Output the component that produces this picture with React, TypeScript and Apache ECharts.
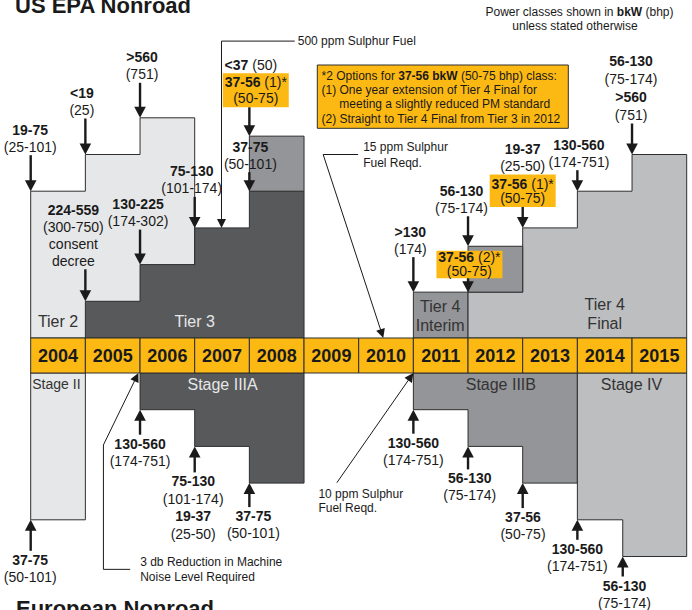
import React, { useEffect, useRef } from "react";
import * as echarts from "echarts";

// ---------------- data ----------------
const years = [2004, 2005, 2006, 2007, 2008, 2009, 2010, 2011, 2012, 2013, 2014, 2015];
const lastYearEnd = 2016;

// US EPA (above the timeline): step boundaries (years) and heights (rows)
const tier2Years = [2004, 2005, 2006, 2007];
const tier2Rows = [4, 5, 6];
const tier3Years = [2005, 2006, 2007, 2008, 2009];
const tier3Rows = [1, 2, 3, 4];
const tier3OptYears = [2008, 2009];
const tier3OptRows = [5.5];
const tier3OptBase = 4;
const tier4iYears = [2011, 2012];
const tier4iRows = [1.25];
const tier4fYears = [2012, 2013, 2014, 2015, 2016];
const tier4fRows = [1.25, 3, 4, 5];
const tier4OptYears = [2012, 2013];
const tier4OptRows = [2.5];
const tier4OptBase = 1.25;

// European (below the timeline): step boundaries (years) and depths (rows)
const stage2Years = [2004, 2005];
const stage2Rows = [4];
const stage3aYears = [2006, 2007, 2008, 2009];
const stage3aRows = [1, 2, 3];
const stage3bYears = [2011, 2012, 2013, 2014];
const stage3bRows = [1, 2, 3];
const stage4Years = [2014, 2014.83, 2016];
const stage4Rows = [4, 5];

// power-class call-outs, kW bold and (bhp)
const usClasses = [
  { year: 2004, row: 4, lines: ["{b|19-75}", "(25-101)"] },
  { year: 2005, row: 5, lines: ["{b|<19}", "(25)"] },
  { year: 2006, row: 6, lines: ["{b|>560}", "(751)"] },
  { year: 2005, row: 1, lines: ["{b|224-559}", "(300-750)", "consent", "decree"] },
  { year: 2006, row: 2, lines: ["{b|130-225}", "(174-302)"] },
  { year: 2007, row: 3, lines: ["{b|75-130}", "(101-174)"] },
  { year: 2008, row: 5.5, lines: ["{b|<37} (50)"], box: ["{b|37-56} (1)*", "(50-75)"] },
  { year: 2008, row: 4, lines: ["{b|37-75}", "(50-101)"] },
  { year: 2011, row: 1.25, lines: ["{b|>130}", "(174)"] },
  { year: 2012, row: 2.5, lines: ["{b|56-130}", "(75-174)"] },
  { year: 2012, row: 1.25, lines: [], box: ["{b|37-56} (2)*", "(50-75)"] },
  { year: 2013, row: 3, lines: ["{b|19-37}", "(25-50)"], box: ["{b|37-56} (1)*", "(50-75)"] },
  { year: 2014, row: 4, lines: ["{b|130-560}", "(174-751)"] },
  { year: 2015, row: 5, lines: ["{b|56-130}", "(75-174)", "{b|>560}", "(751)"] },
];
const euClasses = [
  { year: 2004, row: 4, lines: ["{b|37-75}", "(50-101)"] },
  { year: 2006, row: 1, lines: ["{b|130-560}", "(174-751)"] },
  { year: 2007, row: 2, lines: ["{b|75-130}", "(101-174)", "{b|19-37}", "(25-50)"] },
  { year: 2008, row: 3, lines: ["{b|37-75}", "(50-101)"] },
  { year: 2011, row: 1, lines: ["{b|130-560}", "(174-751)"] },
  { year: 2012, row: 2, lines: ["{b|56-130}", "(75-174)"] },
  { year: 2013, row: 3, lines: ["{b|37-56}", "(50-75)"] },
  { year: 2014, row: 4, lines: ["{b|130-560}", "(174-751)"] },
  { year: 2014.83, row: 5, lines: ["{b|56-130}", "(75-174)"] },
];

// leader notes: path in (year,row), first point is text anchor, last is arrow tip
const usNotes = [
  { path: [[2008.83, 8.09], [2007.49, 8.09], [2007.49, 3]], lines: ["500 ppm Sulphur Fuel"] },
  { path: [[2009.99, 5], [2009.35, 5], [2010.45, 0]], lines: ["15 ppm Sulphur", "Fuel Reqd."] },
];
const euNotes = [
  { path: [[2005.82, 5.35], [2005.33, 5.35], [2005.33, 1.96], [2005.97, 0]], lines: ["3 db Reduction in Machine", "Noise Level Required"] },
  { path: [[2009.6, 2.99], [2011, 0]], lines: ["10 ppm Sulphur", "Fuel Reqd."] },
];

const regionNames = [
  { side: "us", year: 2004.5, row: 0.44, lines: ["Tier 2"] },
  { side: "us", year: 2007, row: 0.44, lines: ["Tier 3"] },
  { side: "us", year: 2011.49, row: 0.6, lines: ["Tier 4", "Interim"] },
  { side: "us", year: 2014.5, row: 0.65, lines: ["Tier 4", "Final"] },
  { side: "eu", year: 2004.47, row: 0.31, lines: ["Stage II"] },
  { side: "eu", year: 2007.51, row: 0.31, lines: ["Stage IIIA"] },
  { side: "eu", year: 2012.6, row: 0.31, lines: ["Stage IIIB"] },
  { side: "eu", year: 2014.99, row: 0.31, lines: ["Stage IV"] },
];

// ---------------- layout & style ----------------
const FONT = '"Liberation Sans", Arial, Helvetica, sans-serif';
const INK = "#1a1a1a";
const EDGE = "#2e2e2e";
const GOLD = "#FDB913";
const C_LIGHT = "#E6E7E8";
const C_DARK = "#58595B";
const C_MID = "#939598";
const C_SILVER = "#BCBEC0";

const ROW_PX = 36.7;
const BAR = 35 / ROW_PX;
const Y_MAX = 338 / ROW_PX;
const Y_MIN = Y_MAX - 610 / ROW_PX;

const usLayout = [
  { len: 36, dx: -0.5 },
  { len: 36, dx: -3.5 },
  { len: 35, dx: 2 },
  { len: 32, dx: -12 },
  { len: 35, dx: -2 },
  { len: 31, dx: -3 },
  { len: 29, dx: 1.5, boxDx: 6.4, boxW: 66, boxH: 34, boxGap: 16 },
  { len: 19, dx: 1 },
  { len: 35, dx: -3 },
  { len: 30, dx: -6.6 },
  { len: 14, dx: 0, boxDx: 1.4, boxW: 66, boxH: 27.4, boxGap: 14 },
  { len: 21, dx: 0, boxDx: 0, boxW: 66, boxH: 32.4, boxGap: 14 },
  { len: 21, dx: 1.6 },
  { len: 31, dx: -1, gap: 18 },
];
const euLayout = [
  { len: 31, dx: -0.5 },
  { len: 25, dx: 0 },
  { len: 26, dx: -1.5, gap: 17.4 },
  { len: 24, dx: 4 },
  { len: 24, dx: 0 },
  { len: 23, dx: 1.7 },
  { len: 25, dx: 0.3 },
  { len: 20, dx: 0 },
  { len: 20, dx: 1.7 },
];
const usNoteLayout = [
  { tx: 3, ty: [0] },
  { tx: 5, ty: [-8, 8] },
];
const euNoteLayout = [
  { tx: 10, ty: [-7.5, 7.5] },
  { tx: -18.4, ty: [11.6, 25] },
];
const regionNameStyle = [
  { color: "#333333", size: 16 },
  { color: "#E6E7E8", size: 16 },
  { color: "#333333", size: 16 },
  { color: "#333333", size: 16 },
  { color: "#333333", size: 14 },
  { color: "#E6E7E8", size: 16 },
  { color: "#333333", size: 16 },
  { color: "#333333", size: 16 },
];

const regions = [
  { side: "us", years: tier2Years, rows: tier2Rows, base: 0, fill: C_LIGHT },
  { side: "us", years: tier3Years, rows: tier3Rows, base: 0, fill: C_DARK },
  { side: "us", years: tier3OptYears, rows: tier3OptRows, base: tier3OptBase, fill: C_MID },
  { side: "us", years: tier4iYears, rows: tier4iRows, base: 0, fill: C_MID },
  { side: "us", years: tier4fYears, rows: tier4fRows, base: 0, fill: C_SILVER },
  { side: "us", years: tier4OptYears, rows: tier4OptRows, base: tier4OptBase, fill: C_MID },
  { side: "eu", years: stage2Years, rows: stage2Rows, base: 0, fill: C_LIGHT },
  { side: "eu", years: stage3aYears, rows: stage3aRows, base: 0, fill: C_DARK },
  { side: "eu", years: stage3bYears, rows: stage3bRows, base: 0, fill: C_MID },
  { side: "eu", years: stage4Years, rows: stage4Rows, base: 0, fill: C_SILVER },
];

function toV(side: string, row: number) {
  return side === "us" ? row : -(BAR + row);
}

function txt(x: number, y: number, text: string, o: any = {}) {
  const size = o.size ?? 14;
  const color = o.color ?? INK;
  const align = o.align ?? "center";
  return {
    type: "text",
    x,
    y,
    style: {
      text,
      fill: color,
      fontSize: size,
      fontFamily: FONT,
      fontWeight: o.weight ?? "normal",
      align,
      textAlign: align,
      verticalAlign: "middle",
      textVerticalAlign: "middle",
      rich: { b: { fontSize: size, fontFamily: FONT, fontWeight: "bold", fill: color } },
    },
  };
}

function arrow(x1: number, y1: number, x2: number, y2: number, thick: boolean) {
  const head = thick ? 11 : 9;
  const half = thick ? 5.8 : 4.5;
  const dx = x2 - x1;
  const dy = y2 - y1;
  const d = Math.hypot(dx, dy) || 1;
  const ux = dx / d;
  const uy = dy / d;
  const bx = x2 - ux * head;
  const by = y2 - uy * head;
  const px = -uy;
  const py = ux;
  return [
    { type: "line", shape: { x1, y1, x2: bx + ux, y2: by + uy }, style: { stroke: INK, lineWidth: thick ? 2.4 : 1 } },
    {
      type: "polygon",
      shape: { points: [[x2, y2], [bx + px * half, by + py * half], [bx - px * half, by - py * half]] },
      style: { fill: INK },
    },
  ];
}

function classRenderer(side: string, list: any[], layout: any[]) {
  return (params: any, api: any) => {
    const a = list[params.dataIndex];
    const L = layout[params.dataIndex];
    const tip = api.coord([a.year, toV(side, a.row)]);
    const x = tip[0];
    const tipY = tip[1];
    const dir = side === "us" ? 1 : -1;
    const startY = tipY - dir * L.len;
    const kids: any[] = [...arrow(x, startY, x, tipY, true)];
    const gap = L.gap ?? 17;
    if (side === "us") {
      let top = startY;
      if (a.box) {
        const bx = x + L.boxDx;
        kids.push({
          type: "rect",
          shape: { x: bx - L.boxW / 2, y: startY - L.boxH, width: L.boxW, height: L.boxH },
          style: { fill: GOLD },
        });
        const mid = startY - L.boxH / 2;
        const n = a.box.length;
        a.box.forEach((t: string, i: number) => kids.push(txt(bx, mid + (i - (n - 1) / 2) * L.boxGap, t)));
        top = startY - L.boxH;
      }
      const n = a.lines.length;
      a.lines.forEach((t: string, i: number) => kids.push(txt(x + L.dx, top - 8.5 - (n - 1 - i) * gap, t)));
    } else {
      a.lines.forEach((t: string, i: number) => kids.push(txt(x + L.dx, startY + 9 + i * gap, t)));
    }
    return { type: "group", children: kids };
  };
}

function noteRenderer(side: string, list: any[], layout: any[]) {
  return (params: any, api: any) => {
    const n = list[params.dataIndex];
    const L = layout[params.dataIndex];
    const pts = n.path.map((p: number[]) => api.coord([p[0], toV(side, p[1])]));
    const kids: any[] = [];
    if (pts.length > 2) {
      kids.push({ type: "polyline", shape: { points: pts.slice(0, pts.length - 1) }, style: { stroke: INK, lineWidth: 1, fill: "none" } });
    }
    const a = pts[pts.length - 2];
    const b = pts[pts.length - 1];
    kids.push(...arrow(a[0], a[1], b[0], b[1], false));
    n.lines.forEach((t: string, i: number) =>
      kids.push(txt(pts[0][0] + L.tx, pts[0][1] + L.ty[i], t, { size: 12, align: "left" }))
    );
    return { type: "group", children: kids };
  };
}

function buildOption() {
  const common = { type: "custom", coordinateSystem: "cartesian2d", clip: false, silent: true, encode: { x: 0, y: 1 } };
  return {
    animation: false,
    backgroundColor: "#ffffff",
    grid: { left: 30.7, right: 5.3, top: 0, bottom: 0 },
    xAxis: { type: "value", min: years[0], max: lastYearEnd, show: false },
    yAxis: { type: "value", min: Y_MIN, max: Y_MAX, show: false },
    series: [
      {
        ...common,
        z: 1,
        data: regions.map((r, i) => [r.years[0], toV(r.side, r.base), i]),
        renderItem: (params: any, api: any) => {
          const r = regions[params.dataIndex];
          const pts: number[][] = [];
          pts.push(api.coord([r.years[0], toV(r.side, r.base)]));
          r.rows.forEach((h, i) => {
            pts.push(api.coord([r.years[i], toV(r.side, h)]));
            pts.push(api.coord([r.years[i + 1], toV(r.side, h)]));
          });
          pts.push(api.coord([r.years[r.years.length - 1], toV(r.side, r.base)]));
          return { type: "polygon", shape: { points: pts }, style: { fill: r.fill, stroke: EDGE, lineWidth: 1 } };
        },
      },
      {
        ...common,
        z: 2,
        data: regionNames.map((r) => [r.year, toV(r.side, r.row)]),
        renderItem: (params: any, api: any) => {
          const r = regionNames[params.dataIndex];
          const s = regionNameStyle[params.dataIndex];
          const p = api.coord([r.year, toV(r.side, r.row)]);
          const n = r.lines.length;
          return {
            type: "group",
            children: r.lines.map((t, i) => txt(p[0], p[1] + (i - (n - 1) / 2) * 18.3, t, { size: s.size, color: s.color })),
          };
        },
      },
      {
        ...common,
        z: 3,
        data: years.map((y) => [y, 0]),
        renderItem: (params: any, api: any) => {
          const y = years[params.dataIndex];
          const p0 = api.coord([y, 0]);
          const p1 = api.coord([y + 1, -BAR]);
          return {
            type: "group",
            children: [
              { type: "rect", shape: { x: p0[0], y: p0[1], width: p1[0] - p0[0], height: p1[1] - p0[1] }, style: { fill: GOLD, stroke: EDGE, lineWidth: 1 } },
              txt((p0[0] + p1[0]) / 2, (p0[1] + p1[1]) / 2, String(y), { size: 18, weight: "bold" }),
            ],
          };
        },
      },
      { ...common, z: 4, data: usClasses.map((a) => [a.year, toV("us", a.row)]), renderItem: classRenderer("us", usClasses, usLayout) },
      { ...common, z: 4, data: euClasses.map((a) => [a.year, toV("eu", a.row)]), renderItem: classRenderer("eu", euClasses, euLayout) },
      { ...common, z: 4, data: usNotes.map((n) => [n.path[0][0], toV("us", n.path[0][1])]), renderItem: noteRenderer("us", usNotes, usNoteLayout) },
      { ...common, z: 4, data: euNotes.map((n) => [n.path[0][0], toV("eu", n.path[0][1])]), renderItem: noteRenderer("eu", euNotes, euNoteLayout) },
    ],
    graphic: [
      txt(15, 5, "US EPA Nonroad", { size: 22, weight: "bold", align: "left" }),
      txt(16, 608, "European Nonroad", { size: 22, weight: "bold", align: "left" }),
      txt(579.5, 12.3, "Power classes shown in {b|bkW} (bhp)", { size: 12 }),
      txt(575, 25.5, "unless stated otherwise", { size: 12 }),
      { type: "rect", shape: { x: 317.3, y: 65, width: 251, height: 63.3 }, style: { fill: GOLD, stroke: EDGE, lineWidth: 1 } },
      txt(321.5, 75.7, "*2 Options for {b|37-56 bkW} (50-75 bhp) class:", { size: 12, align: "left" }),
      txt(321.5, 90, "(1) One year extension of Tier 4 Final for", { size: 12, align: "left" }),
      txt(339.3, 104.4, "meeting a slightly reduced PM standard", { size: 12, align: "left" }),
      txt(321.5, 119, "(2) Straight to Tier 4 Final from Tier 3 in 2012", { size: 12, align: "left" }),
    ],
  };
}

export default function App() {
  const ref = useRef<HTMLDivElement>(null);
  useEffect(() => {
    const chart = echarts.init(ref.current as HTMLDivElement, undefined, { renderer: "svg" });
    chart.setOption(buildOption() as any);
    return () => chart.dispose();
  }, []);
  return (
    <div
      ref={ref}
      style={{ position: "absolute", left: 0, top: 0, width: 692, height: 610, background: "#ffffff" }}
    />
  );
}
